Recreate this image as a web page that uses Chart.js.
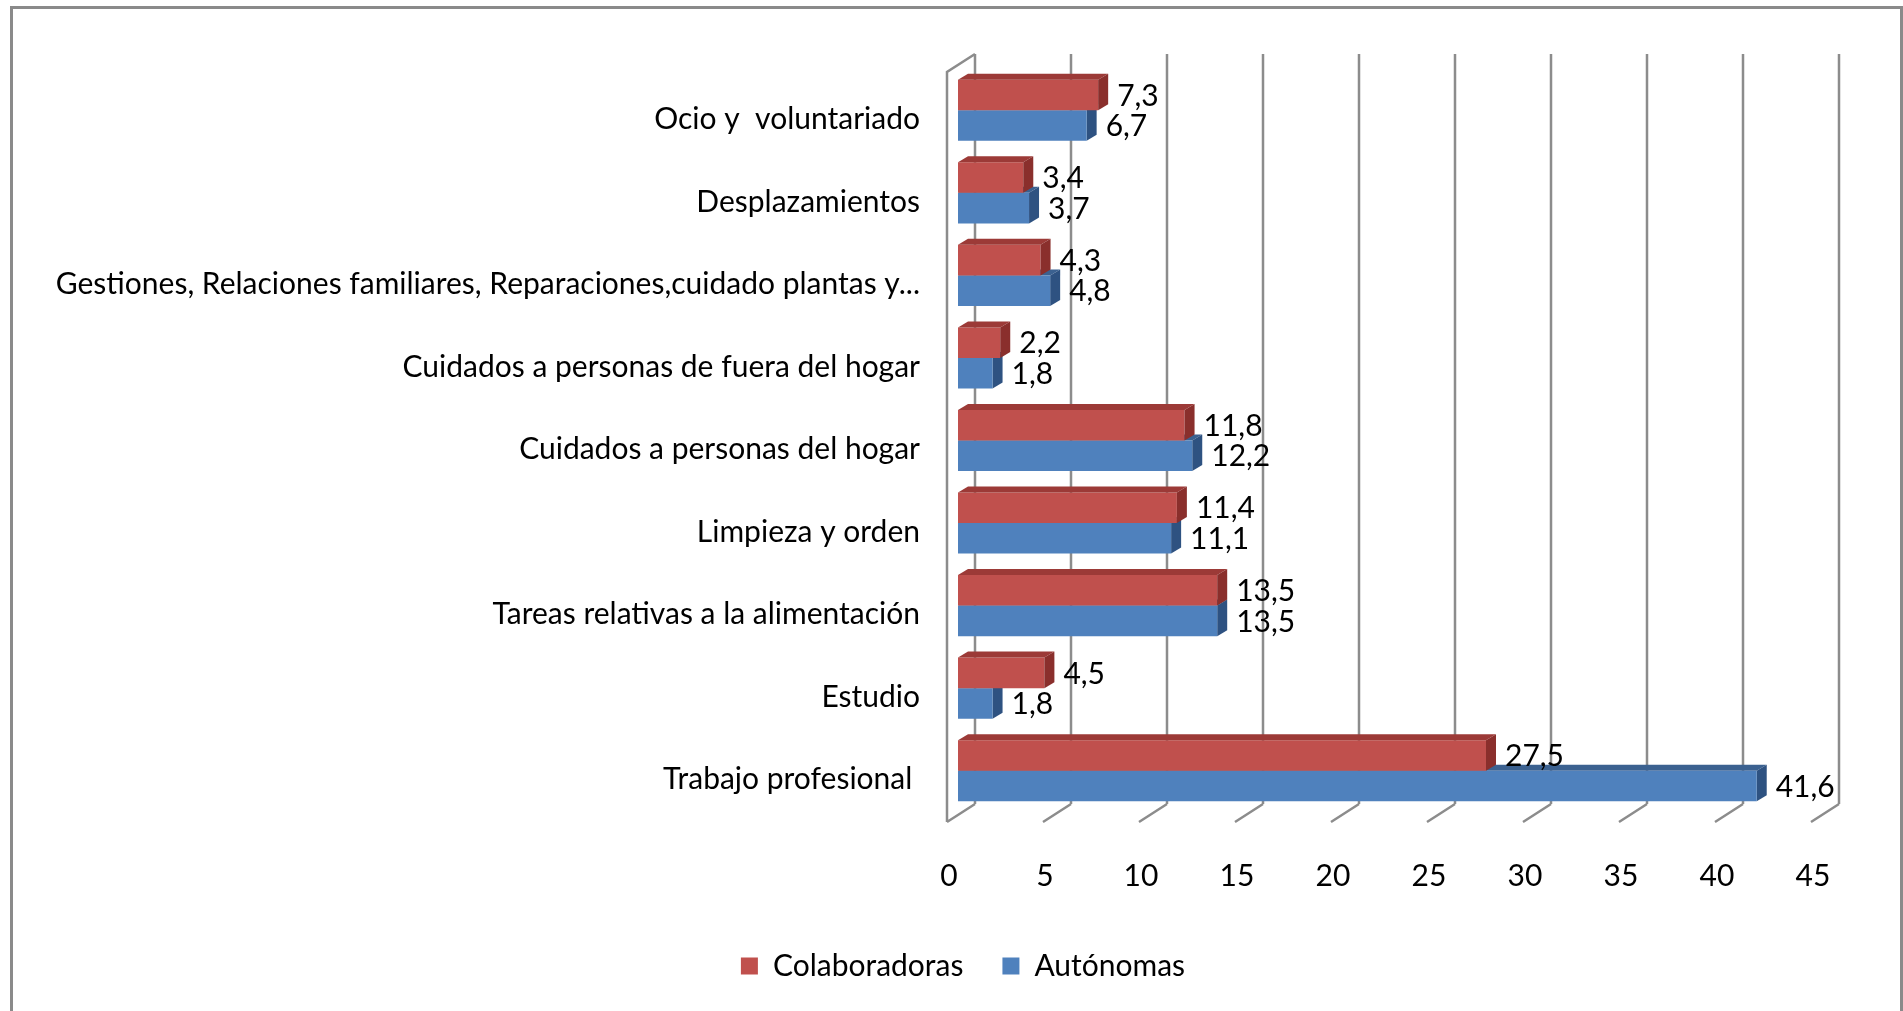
<!DOCTYPE html>
<html>
<head>
<meta charset="utf-8">
<script src="https://cdn.jsdelivr.net/npm/chart.js@4.4.1/dist/chart.umd.min.js"></script>
<style>
    body { margin: 0; background: #fff; }
    #frame {
        position: absolute; left: 10px; top: 6px; width: 1887px; height: 1020px;
        border: 3px solid #8a8a8a; border-bottom: none;
    }
    #myChart { position: absolute; left: 0; top: 0; }
</style>
</head>
<body>
<div id="frame"></div>
<canvas id="myChart" width="1903" height="1011"></canvas>
<script>
const categories = [
    "Ocio y  voluntariado",
    "Desplazamientos",
    "Gestiones, Relaciones familiares, Reparaciones,cuidado plantas y...",
    "Cuidados a personas de fuera del hogar",
    "Cuidados a personas del hogar",
    "Limpieza y orden",
    "Tareas relativas a la alimentación",
    "Estudio",
    "Trabajo profesional ",
];
const colaboradoras = [7.3, 3.4, 4.3, 2.2, 11.8, 11.4, 13.5, 4.5, 27.5];
const autonomas = [6.7, 3.7, 4.8, 1.8, 12.2, 11.1, 13.5, 1.8, 41.6];
const xTicks = [0, 5, 10, 15, 20, 25, 30, 35, 40, 45];

const FONT = "Lato";
const FONT_SIZE = 30;
const WALL_DEPTH = { x: 28, y: -18 };
const BAR_DEPTH = { x: 10, y: -6 };
const LEGEND_SHIFT = 52;
const faceColors = [
    { top: "#9c3a37", side: "#8a2f2c" },
    { top: "#3b6190", side: "#2e5281" },
];

Chart.defaults.font.family = FONT;
Chart.defaults.color = "#000";

// grey 3d walls + floor, drawn from the x scale
const wallPlugin = {
    id: "wall3d",
    afterLayout(chart) {
        // legend sits a bit right of the canvas centre in the original
        chart.legend.left += LEGEND_SHIFT;
        chart.legend.right += LEGEND_SHIFT;
    },
    beforeDatasetsDraw(chart) {
        const ctx = chart.ctx;
        const xs = chart.scales.x;
        const area = chart.chartArea;
        const fTop = area.top + 3, fBottom = area.bottom + 10;
        const bTop = fTop + WALL_DEPTH.y, bBottom = fBottom + WALL_DEPTH.y;
        ctx.save();
        ctx.strokeStyle = "#8c8c8c";
        ctx.lineWidth = 2.5;
        ctx.beginPath();
        xTicks.forEach((v) => {
            const fx = xs.getPixelForValue(v) - 11;
            const bx = fx + WALL_DEPTH.x;
            ctx.moveTo(bx, bTop);
            ctx.lineTo(bx, bBottom);
            ctx.moveTo(fx, fBottom);
            ctx.lineTo(bx, bBottom);
        });
        const lx = xs.getPixelForValue(0) - 11;
        ctx.moveTo(lx, fBottom);
        ctx.lineTo(lx, fTop);
        ctx.lineTo(lx + WALL_DEPTH.x, bTop);
        ctx.stroke();
        ctx.restore();
        drawFaces(chart, 1);
    },
    afterDatasetsDraw(chart) {
        drawFaces(chart, 0);
        const ctx = chart.ctx;
        ctx.save();
        ctx.font = FONT_SIZE + "px " + FONT;
        ctx.fillStyle = "#000";
        ctx.textAlign = "left";
        ctx.textBaseline = "middle";
        chart.data.datasets.forEach((ds, i) => {
            chart.getDatasetMeta(i).data.forEach((bar, j) => {
                const p = bar.getProps(["x", "y"], true);
                const txt = String(ds.data[j]).replace(".", ",");
                ctx.fillText(txt, p.x + 19, p.y + 1);
            });
        });
        ctx.restore();
    },
};

function drawFaces(chart, dsIndex) {
    const ctx = chart.ctx;
    const c = faceColors[dsIndex];
    ctx.save();
    chart.getDatasetMeta(dsIndex).data.forEach((bar) => {
        const p = bar.getProps(["x", "y", "base", "height"], true);
        const top = p.y - p.height / 2, bottom = p.y + p.height / 2;
        ctx.fillStyle = c.top;
        ctx.beginPath();
        ctx.moveTo(p.base, top);
        ctx.lineTo(p.base + BAR_DEPTH.x, top + BAR_DEPTH.y);
        ctx.lineTo(p.x + BAR_DEPTH.x, top + BAR_DEPTH.y);
        ctx.lineTo(p.x, top);
        ctx.closePath();
        ctx.fill();
        ctx.fillStyle = c.side;
        ctx.beginPath();
        ctx.moveTo(p.x, top);
        ctx.lineTo(p.x + BAR_DEPTH.x, top + BAR_DEPTH.y);
        ctx.lineTo(p.x + BAR_DEPTH.x, bottom + BAR_DEPTH.y);
        ctx.lineTo(p.x, bottom);
        ctx.closePath();
        ctx.fill();
    });
    ctx.restore();
}

const data = {
    labels: categories,
    datasets: [
        {
            label: "Colaboradoras",
            backgroundColor: "#c0504d",
            data: colaboradoras,
        },
        {
            label: "Autónomas",
            backgroundColor: "#4f81bd",
            data: autonomas,
        },
    ],
};

const config = {
    type: "bar",
    data: data,
    plugins: [wallPlugin],
    options: {
        responsive: false,
        animation: false,
        indexAxis: "y",
        categoryPercentage: 0.74,
        barPercentage: 1.0,
        layout: { padding: { top: 69, right: 81, left: 0, bottom: 20 } },
        scales: {
            x: {
                min: 0,
                max: 45,
                grid: { display: false, drawTicks: false },
                border: { display: false },
                ticks: {
                    stepSize: 5,
                    padding: 46,
                    labelOffset: -9,
                    maxRotation: 0,
                    font: { size: FONT_SIZE },
                },
                afterFit: (scale) => { scale.height = 100; },
            },
            y: {
                grid: { display: false, drawTicks: false },
                border: { display: false },
                ticks: {
                    padding: 38,
                    labelOffset: 9,
                    autoSkip: false,
                    font: { size: FONT_SIZE },
                },
                afterFit: (scale) => { scale.width = 958; },
            },
        },
        plugins: {
            legend: {
                position: "bottom",
                labels: {
                    boxWidth: 17,
                    boxHeight: 17,
                    padding: 39,
                    font: { size: FONT_SIZE },
                },
            },
            tooltip: { enabled: false },
        },
    },
};

const ctx = document.getElementById("myChart").getContext("2d");
const myChart = new Chart(ctx, config);
</script>
</body>
</html>
